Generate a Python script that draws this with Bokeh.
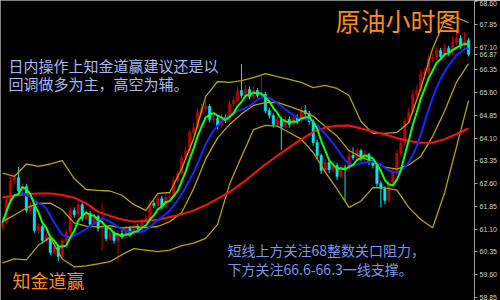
import pandas as pd
from bokeh.plotting import figure
from bokeh.models import Range1d, LinearAxis, FixedTicker, Label, ColumnDataSource, PrintfTickFormatter
from bokeh.embed import file_html
from bokeh.resources import INLINE

# ---- hourly candles (crude oil) ----
opens = [61.20, 61.32, 62.05, 62.71, 62.80, 62.38, 62.51, 61.72, 61.88, 61.06,
         61.19, 60.73, 60.86, 60.33, 60.53, 60.20, 60.73, 60.99, 61.72, 61.58,
         61.91, 61.45, 61.62, 61.26, 61.52, 61.12, 61.19, 60.79, 60.99, 60.73,
         60.96, 60.86, 61.12, 60.93, 61.19, 61.12, 61.39, 61.45, 61.95, 61.88,
         62.11, 61.85, 62.15, 62.18, 62.71, 62.94, 63.46, 63.69, 64.29, 64.45,
         64.95, 65.08, 65.15, 64.72, 64.75, 64.52, 64.78, 64.72, 65.24, 65.34,
         65.67, 65.51, 65.71, 65.47, 65.67, 65.51, 65.54, 65.01, 64.85, 64.55,
         64.72, 64.49, 64.72, 64.55, 64.78, 64.68, 65.01, 64.91, 64.65, 63.96,
         63.53, 63.04, 63.30, 63.07, 63.20, 62.84, 63.13, 63.10, 63.53, 63.46,
         63.69, 63.43, 63.56, 63.30, 63.20, 62.61, 62.44, 62.05, 62.61, 62.97,
         63.60, 63.93, 64.65, 64.95, 65.54, 65.67, 66.20, 66.27, 66.73, 66.76,
         66.99, 66.79, 67.06, 66.93, 67.26, 67.39, 67.16, 67.32]
closes = [61.32, 62.05, 62.71, 62.80, 62.38, 62.51, 61.72, 61.88, 61.06, 61.19,
          60.73, 60.86, 60.33, 60.53, 60.20, 60.73, 60.99, 61.72, 61.58, 61.91,
          61.45, 61.62, 61.26, 61.52, 61.12, 61.19, 60.79, 60.99, 60.73, 60.96,
          60.86, 61.12, 60.93, 61.19, 61.12, 61.39, 61.45, 61.95, 61.88, 62.11,
          61.85, 62.15, 62.18, 62.71, 62.94, 63.46, 63.69, 64.29, 64.45, 64.95,
          65.08, 65.15, 64.72, 64.75, 64.52, 64.78, 64.72, 65.24, 65.34, 65.67,
          65.51, 65.71, 65.47, 65.67, 65.51, 65.54, 65.01, 64.85, 64.55, 64.72,
          64.49, 64.72, 64.55, 64.78, 64.68, 65.01, 64.91, 64.65, 63.96, 63.53,
          63.04, 63.30, 63.07, 63.20, 62.84, 63.13, 63.10, 63.53, 63.46, 63.69,
          63.43, 63.56, 63.30, 63.20, 62.61, 62.44, 62.05, 62.61, 62.97, 63.60,
          63.93, 64.65, 64.95, 65.54, 65.67, 66.20, 66.27, 66.73, 66.76, 66.99,
          66.79, 67.06, 66.93, 67.26, 67.39, 67.16, 67.32, 66.87]
highs = [61.45, 62.15, 62.85, 62.92, 63.15, 62.62, 62.60, 62.00, 61.95, 61.30,
         61.25, 61.00, 60.92, 60.66, 60.60, 60.80, 61.10, 61.85, 61.82, 62.05,
         61.98, 61.75, 61.70, 61.62, 61.58, 61.95, 61.25, 61.10, 61.05, 61.05,
         61.08, 61.22, 61.20, 61.30, 61.28, 61.48, 61.58, 62.08, 62.05, 62.25,
         62.20, 62.28, 62.30, 62.85, 63.05, 63.58, 63.82, 64.40, 64.60, 65.08,
         65.25, 65.32, 65.22, 64.88, 64.85, 64.90, 64.88, 65.35, 65.48, 65.80,
         66.55, 65.85, 65.80, 65.82, 65.75, 66.20, 65.62, 65.10, 64.92, 64.85,
         64.80, 64.85, 64.82, 64.90, 64.88, 65.15, 65.20, 65.00, 64.72, 64.05,
         63.60, 63.42, 63.38, 63.35, 63.28, 63.25, 63.22, 63.65, 63.80, 63.82,
         63.75, 63.70, 63.62, 63.38, 63.28, 62.70, 62.52, 62.72, 63.10, 63.72,
         64.05, 64.78, 65.10, 65.68, 65.82, 66.35, 66.42, 66.85, 66.90, 67.12,
         67.08, 67.20, 67.15, 67.45, 67.68, 67.50, 67.60, 67.40]
lows = [61.10, 61.25, 61.98, 62.62, 62.30, 62.25, 61.64, 61.60, 60.98, 60.95,
        60.62, 60.65, 60.25, 60.26, 60.05, 60.12, 60.66, 60.92, 61.48, 61.50,
        61.36, 61.38, 61.15, 61.20, 61.02, 60.40, 60.70, 60.72, 60.62, 60.00,
        60.78, 60.80, 60.85, 60.88, 61.02, 61.05, 61.30, 61.40, 61.78, 61.82,
        61.75, 61.78, 62.05, 62.12, 62.62, 62.88, 63.38, 63.62, 64.20, 64.38,
        64.88, 64.98, 64.62, 64.58, 64.40, 64.45, 64.60, 64.65, 65.15, 65.28,
        65.42, 65.45, 65.38, 65.40, 65.42, 65.42, 64.92, 64.75, 64.45, 64.48,
        63.70, 64.42, 64.45, 64.48, 64.58, 64.60, 64.82, 64.55, 63.85, 63.40,
        62.92, 62.95, 62.95, 62.98, 62.72, 62.78, 62.05, 63.02, 63.38, 63.40,
        63.35, 63.36, 63.22, 63.10, 62.50, 61.82, 61.92, 61.98, 62.55, 62.90,
        63.52, 63.85, 64.58, 64.88, 65.45, 65.60, 66.05, 66.20, 66.62, 66.68,
        66.68, 66.72, 66.82, 66.85, 67.18, 67.05, 67.08, 66.80]

# ---- indicator lines, read every 3rd bar ----
band_idx = list(range(0, 118, 3))
boll_upper = [62.95, 62.84, 63.25, 63.17, 63.25, 63.36, 62.77, 62.41, 62.38, 62.36,
              62.22, 61.91, 61.72, 62.28, 62.31, 63.10, 64.09, 65.47, 65.97, 65.94,
              66.00, 66.10, 66.23, 66.13, 66.04, 65.94, 65.77, 65.84, 65.74, 65.51,
              64.65, 64.26, 64.26, 64.29, 64.62, 65.74, 67.06, 67.98, 68.08, 67.91]
boll_mid = [61.35, 61.57, 61.80, 61.95, 61.96, 61.74, 61.31, 61.20, 61.18, 61.22,
            61.14, 61.18, 61.15, 61.19, 61.35, 61.65, 62.44, 63.41, 64.11, 64.55,
            64.90, 65.18, 65.27, 65.28, 65.15, 65.01, 64.83, 64.49, 64.17, 63.69,
            63.48, 63.33, 63.15, 63.08, 63.22, 63.50, 64.16, 65.00, 65.95, 66.56]
boll_lower = [59.99, 60.12, 60.09, 60.57, 60.83, 60.12, 59.86, 59.89, 59.96, 60.03,
              60.26, 60.46, 60.41, 60.36, 60.41, 60.56, 60.64, 60.80, 61.26, 62.58,
              63.49, 64.38, 64.52, 64.50, 64.29, 64.07, 63.63, 62.99, 62.42, 61.82,
              62.03, 62.47, 62.46, 62.39, 61.82, 61.42, 61.15, 62.31, 63.82, 65.34]
ma_long = [62.15, 62.20, 62.25, 62.28, 62.28, 62.23, 62.14, 61.95, 61.68, 61.54,
           61.42, 61.35, 61.38, 61.41, 61.50, 61.59, 61.72, 61.89, 62.11, 62.32,
           62.61, 62.92, 63.24, 63.52, 63.80, 64.06, 64.30, 64.45, 64.51, 64.52,
           64.42, 64.32, 64.22, 64.11, 64.01, 63.95, 63.96, 64.07, 64.24, 64.42]

price_ticks = [58.85, 59.60, 60.35, 61.10, 61.85, 62.60, 63.35, 64.10,
               64.85, 65.60, 66.35, 67.10, 67.85, 68.60]
last_price = 66.87

title_text = "原油小时图"
brand_text = "知金道赢"
note_top = ["日内操作上知金道赢建议还是以", "回调做多为主，高空为辅。"]
note_bottom = ["短线上方关注68整数关口阻力，", "下方关注66.6-66.3一线支撑。"]

# ---- build ----
idx = list(range(len(closes)))
colors = ["#c40000" if c >= o else "#00e8f0" for o, c in zip(opens, closes)]
src = ColumnDataSource(dict(x=idx, o=opens, c=closes, h=highs, l=lows,
                            top=[max(a, b) for a, b in zip(opens, closes)],
                            bot=[min(a, b) for a, b in zip(opens, closes)],
                            col=colors))
s = pd.Series(closes)
ma5 = s.rolling(5, min_periods=1).mean().tolist()
ma10 = s.rolling(10, min_periods=1).mean().tolist()

p = figure(width=500, height=300, output_backend="svg", toolbar_location=None,
           x_range=Range1d(-0.5, 118.5), y_range=Range1d(58.75, 68.64),
           x_axis_location=None, y_axis_location=None, min_border=0)
p.background_fill_color = "black"
p.border_fill_color = "black"
p.outline_line_color = None
p.xgrid.visible = False
p.ygrid.visible = False

# price axis; the last traded price is shown as an extra tick label
ax = LinearAxis(ticker=FixedTicker(ticks=sorted(price_ticks + [last_price])),
                formatter=PrintfTickFormatter(format="%.2f"))
ax.axis_line_color = "#9a9a9a"
ax.major_tick_line_color = "#9a9a9a"
ax.major_tick_out = 3
ax.major_tick_in = 0
ax.minor_tick_line_color = None
ax.major_label_standoff = 2
ax.major_label_text_font = "Liberation Sans"
ax.major_label_text_font_size = "7px"
ax.major_label_text_color = "#d0d0d0"
p.add_layout(ax, "right")

p.segment("x", "h", "x", "l", source=src, line_color="col", line_width=1)
p.vbar(x="x", top="top", bottom="bot", width=0.6, source=src,
       fill_color="col", line_color="col", line_width=0.5)

band_col = "#b8a400"
p.line(band_idx, boll_upper, line_color=band_col, line_width=1.3)
p.line(band_idx, boll_mid, line_color=band_col, line_width=1.3)
p.line(band_idx, boll_lower, line_color=band_col, line_width=1.3)
p.line(band_idx, ma_long, line_color="#ff1010", line_width=2)
p.line(idx, ma10, line_color="#1428ff", line_width=2)
p.line(idx, ma5, line_color="#10ff10", line_width=2)

font = "Noto Sans CJK SC"
p.add_layout(Label(x=83.6, y=68.01, text=title_text, text_font=font,
                   text_font_size="25px", text_color="#ff8a1c", text_baseline="middle"))
p.add_layout(Label(x=2.5, y=59.42, text=brand_text, text_font=font,
                   text_font_size="18px", text_color="#ff8a1c", text_baseline="middle"))
p.add_layout(Label(x=1.5, y=66.50, text=note_top[0], text_font=font,
                   text_font_size="15px", text_color="#a8b8f4", text_baseline="middle"))
p.add_layout(Label(x=1.5, y=65.90, text=note_top[1], text_font=font,
                   text_font_size="15px", text_color="#a8b8f4", text_baseline="middle"))
p.add_layout(Label(x=56.5, y=60.40, text=note_bottom[0], text_font=font,
                   text_font_size="14px", text_color="#7b95ea", text_baseline="middle"))
p.add_layout(Label(x=56.5, y=59.80, text=note_bottom[1], text_font=font,
                   text_font_size="14px", text_color="#7b95ea", text_baseline="middle"))

open("out.html", "w").write(file_html(p, INLINE))
